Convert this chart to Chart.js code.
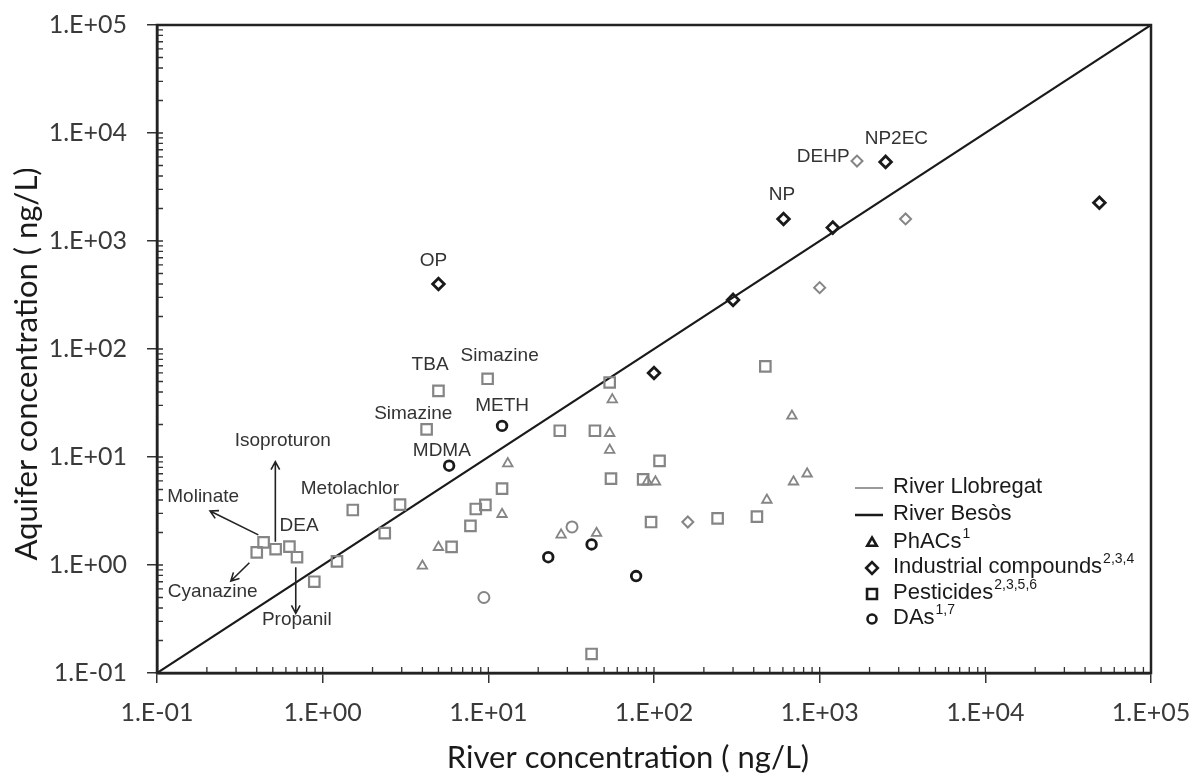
<!DOCTYPE html>
<html>
<head>
<meta charset="utf-8">
<script src="https://cdn.jsdelivr.net/npm/chart.js@4.4.0/dist/chart.umd.min.js"></script>
<style>
html,body{margin:0;padding:0;background:#fff;}
#wrap{width:1194px;height:776px;position:relative;}
</style>
</head>
<body>
<div id="wrap"><canvas id="c" width="1194" height="776"></canvas></div>
<script>
// ---------- axis ticks ----------
const tickValues = [0.1, 1, 10, 100, 1000, 10000, 100000];
const tickLabels = ['1.E-01', '1.E+00', '1.E+01', '1.E+02', '1.E+03', '1.E+04', '1.E+05'];
const oneToOneLine = [0.1, 100000];

// ---------- data (river concentration, aquifer concentration; ng/L) ----------
// PhACs - River Llobregat
const phacsLlobRiver   = [13.1, 12.1, 5.0, 4.0, 56, 54, 54, 91, 102, 27.5, 45, 680, 695, 840, 480];
const phacsLlobAquifer = [8.7, 2.95, 1.46, 0.98, 34, 16.6, 11.6, 5.9, 5.9, 1.9, 1.97, 24, 5.9, 7.0, 4.0];
// Industrial compounds - River Besòs
const indBesosRiver   = [5.0, 605, 1200, 300, 100, 2500, 48800];
const indBesosAquifer = [400, 1600, 1330, 285, 60, 5400, 2260];
// Industrial compounds - River Llobregat
const indLlobRiver   = [1680, 3300, 1000, 160];
const indLlobAquifer = [5500, 1600, 370, 2.5];
// Pesticides - River Llobregat
const pestLlobRiver   = [0.44, 0.40, 0.52, 0.63, 0.70, 0.89, 1.22, 1.52, 2.37, 2.93, 4.24, 5.0, 9.9, 12.1, 9.6, 8.4, 7.8, 6.0, 54, 27, 44, 108, 55, 86, 96, 242, 42, 470, 418];
const pestLlobAquifer = [1.62, 1.31, 1.40, 1.48, 1.18, 0.70, 1.08, 3.23, 1.97, 3.62, 18.0, 41, 53, 5.1, 3.6, 3.3, 2.3, 1.47, 49, 17.5, 17.5, 9.2, 6.3, 6.2, 2.5, 2.7, 0.15, 69, 2.8];
// DAs - River Besòs
const dasBesosRiver   = [12.1, 5.8, 42, 23, 78];
const dasBesosAquifer = [19.4, 8.3, 1.55, 1.18, 0.79];
// DAs - River Llobregat
const dasLlobRiver   = [9.4, 32];
const dasLlobAquifer = [0.5, 2.25];

// ---------- annotation labels (anchored in data space) ----------
const labelTexts = ['OP', 'NP', 'DEHP', 'NP2EC', 'TBA', 'Simazine', 'Simazine', 'METH', 'MDMA', 'Isoproturon', 'Metolachlor', 'Molinate', 'DEA', 'Cyanazine', 'Propanil'];
const labelRiver   = [4.66, 592, 1051, 2903, 4.45, 11.7, 3.52, 12.1, 5.24, 0.574, 1.46, 0.19, 0.72, 0.217, 0.698];
const labelAquifer = [653, 2665, 5995, 8933, 71, 86, 25, 29.7, 11.4, 14.1, 5.13, 4.24, 2.33, 0.566, 0.314];
// arrows: [riverFrom, aquiferFrom, riverTo, aquiferTo]
const arrowSegments = [
  [0.518, 1.64, 0.518, 9.05],
  [0.409, 1.90, 0.209, 3.16],
  [0.361, 1.05, 0.279, 0.711],
  [0.688, 0.952, 0.688, 0.357]
];

const GRAY = '#858585';
const BLACK = '#1a1a1a';
const pts = (xs, ys) => xs.map((x, i) => ({x: x, y: ys[i]}));

const annotationPlugin = {
  id: 'annot',
  afterDatasetsDraw(chart) {
    const ctx = chart.ctx, xs = chart.scales.x, ys = chart.scales.y;
    ctx.save();
    ctx.fillStyle = '#333';
    ctx.font = '19px "Liberation Sans", Arial, sans-serif';
    ctx.textAlign = 'center';
    ctx.textBaseline = 'middle';
    labelTexts.forEach((t, i) => {
      ctx.fillText(t, xs.getPixelForValue(labelRiver[i]), ys.getPixelForValue(labelAquifer[i]));
    });
    ctx.strokeStyle = '#222';
    ctx.lineWidth = 1.6;
    arrowSegments.forEach(a => {
      const x1 = xs.getPixelForValue(a[0]), y1 = ys.getPixelForValue(a[1]);
      const x2 = xs.getPixelForValue(a[2]), y2 = ys.getPixelForValue(a[3]);
      const ang = Math.atan2(y2 - y1, x2 - x1), h = 9, spread = 0.5;
      ctx.beginPath();
      ctx.moveTo(x1, y1); ctx.lineTo(x2, y2);
      ctx.moveTo(x2 - h * Math.cos(ang - spread), y2 - h * Math.sin(ang - spread));
      ctx.lineTo(x2, y2);
      ctx.lineTo(x2 - h * Math.cos(ang + spread), y2 - h * Math.sin(ang + spread));
      ctx.stroke();
    });
    ctx.restore();
  }
};

const framePlugin = {
  id: 'frame',
  afterDraw(chart) {
    const ctx = chart.ctx, xs = chart.scales.x, ys = chart.scales.y;
    const {left, right, top, bottom} = chart.chartArea;
    ctx.save();
    // minor ticks + inner part of major ticks
    ctx.strokeStyle = '#333';
    ctx.lineWidth = 1.3;
    ctx.beginPath();
    for (let d = 0; d < tickValues.length - 1; d++) {
      for (let k = 1; k <= 9; k++) {
        const v = tickValues[d] * k;
        const px = xs.getPixelForValue(v);
        const py = ys.getPixelForValue(v);
        ctx.moveTo(px, bottom); ctx.lineTo(px, bottom - 6);
        ctx.moveTo(left, py); ctx.lineTo(left + 6, py);
      }
    }
    ctx.stroke();
    // frame
    ctx.strokeStyle = '#222';
    ctx.lineWidth = 2.5;
    ctx.strokeRect(left, top, right - left, bottom - top);

    // axis titles
    ctx.fillStyle = '#1a1a1a';
    ctx.font = '31px Lato, "Open Sans", sans-serif';
    ctx.textAlign = 'center';
    ctx.textBaseline = 'alphabetic';
    ctx.fillText('River concentration ( ng/L)', 628, 768);
    ctx.translate(37, 364);
    ctx.rotate(-Math.PI / 2);
    ctx.fillText('Aquifer concentration ( ng/L)', 0, 0);
    ctx.restore();

    // legend
    ctx.save();
    const lx = right - 296, mx = right - 279, tx = right - 258;
    const rows = [bottom - 186, bottom - 159, bottom - 131, bottom - 106, bottom - 80, bottom - 55];
    ctx.lineWidth = 2;
    ctx.strokeStyle = '#9a9a9a';
    ctx.beginPath(); ctx.moveTo(lx, rows[0] + 1); ctx.lineTo(lx + 28, rows[0] + 1); ctx.stroke();
    ctx.strokeStyle = BLACK; ctx.lineWidth = 2.5;
    ctx.beginPath(); ctx.moveTo(lx, rows[1] + 1); ctx.lineTo(lx + 28, rows[1] + 1); ctx.stroke();
    const marks = ['triangle', 'rectRot', 'rect', 'circle'];
    const radii = [5.5, 5.8, 7, 4.5];
    marks.forEach((m, i) => {
      ctx.strokeStyle = BLACK; ctx.fillStyle = 'rgba(0,0,0,0)'; ctx.lineWidth = 2.6;
      Chart.helpers.drawPoint(ctx, {pointStyle: m, rotation: 0, radius: radii[i], borderWidth: 2.6}, mx, rows[i + 2] + 1);
    });
    const items = [['River Llobregat', ''], ['River Besòs', ''], ['PhACs', '1'], ['Industrial compounds', '2,3,4'], ['Pesticides', '2,3,5,6'], ['DAs', '1,7']];
    ctx.fillStyle = '#1a1a1a';
    ctx.textAlign = 'left';
    ctx.textBaseline = 'middle';
    items.forEach((it, i) => {
      ctx.font = '22px "Liberation Sans", Arial, sans-serif';
      ctx.fillText(it[0], tx, rows[i]);
      if (it[1]) {
        const w = ctx.measureText(it[0]).width;
        ctx.font = '14px "Liberation Sans", Arial, sans-serif';
        ctx.fillText(it[1], tx + w + 1, rows[i] - 8);
      }
    });
    ctx.restore();
  }
};

function build() {
  new Chart(document.getElementById('c'), {
    type: 'scatter',
    data: {
      datasets: [
        {label: 'PhACs Llobregat', data: pts(phacsLlobRiver, phacsLlobAquifer), pointStyle: 'triangle', pointRadius: 5.5, borderColor: GRAY, backgroundColor: 'rgba(0,0,0,0)', borderWidth: 1.8},
        {label: 'Pesticides Llobregat', data: pts(pestLlobRiver, pestLlobAquifer), pointStyle: 'rect', pointRadius: 7.4, borderColor: GRAY, backgroundColor: 'rgba(0,0,0,0)', borderWidth: 2.2},
        {label: 'Industrial Llobregat', data: pts(indLlobRiver, indLlobAquifer), pointStyle: 'rectRot', pointRadius: 5.5, borderColor: GRAY, backgroundColor: 'rgba(0,0,0,0)', borderWidth: 2},
        {label: 'DAs Llobregat', data: pts(dasLlobRiver, dasLlobAquifer), pointStyle: 'circle', pointRadius: 5.5, borderColor: GRAY, backgroundColor: 'rgba(0,0,0,0)', borderWidth: 2},
        {label: 'Industrial Besòs', data: pts(indBesosRiver, indBesosAquifer), pointStyle: 'rectRot', pointRadius: 5.8, borderColor: BLACK, backgroundColor: 'rgba(0,0,0,0)', borderWidth: 2.8},
        {label: 'DAs Besòs', data: pts(dasBesosRiver, dasBesosAquifer), pointStyle: 'circle', pointRadius: 4.8, borderColor: BLACK, backgroundColor: 'rgba(0,0,0,0)', borderWidth: 2.8},
        {type: 'line', label: '1:1', data: oneToOneLine.map(v => ({x: v, y: v})), borderColor: BLACK, borderWidth: 2.2, pointRadius: 0, fill: false, order: 10}
      ]
    },
    options: {
      responsive: false,
      devicePixelRatio: 1,
      animation: false,
      layout: {padding: {left: 0, top: 25, right: 43, bottom: 0}},
      plugins: {legend: {display: false}, tooltip: {enabled: false}},
      scales: {
        x: {
          type: 'logarithmic', position: 'bottom', min: 0.1, max: 100000,
          afterBuildTicks: s => { s.ticks = tickValues.map(v => ({value: v, major: true})); },
          afterFit: s => { s.height = 103; s.paddingLeft = 0; s.paddingRight = 0; s.paddingTop = 0; s.paddingBottom = 0; },
          ticks: {autoSkip: false, maxRotation: 0, minRotation: 0, padding: 15, color: '#3a3a3a',
                  font: {family: 'Lato', size: 25}, callback: (v, i) => tickLabels[i]},
          grid: {drawOnChartArea: false, drawTicks: true, tickLength: 10, color: '#333', lineWidth: 1.5},
          border: {display: true, color: '#222', width: 2.5}
        },
        y: {
          type: 'logarithmic', position: 'left', min: 0.1, max: 100000,
          afterBuildTicks: s => { s.ticks = tickValues.map(v => ({value: v, major: true})); },
          afterFit: s => { s.width = 157; s.paddingLeft = 0; s.paddingRight = 0; s.paddingTop = 0; s.paddingBottom = 0; },
          ticks: {autoSkip: false, padding: 20, color: '#3a3a3a',
                  font: {family: 'Lato', size: 25}, callback: (v, i) => tickLabels[i]},
          grid: {drawOnChartArea: false, drawTicks: true, tickLength: 10, color: '#333', lineWidth: 1.5},
          border: {display: true, color: '#222', width: 2.5}
        }
      }
    },
    plugins: [annotationPlugin, framePlugin]
  });
}
if (document.fonts && document.fonts.load) {
  Promise.all([document.fonts.load('25px Lato'), document.fonts.load('19px "Liberation Sans"')]).then(build, build);
} else { build(); }
</script>
</body>
</html>
